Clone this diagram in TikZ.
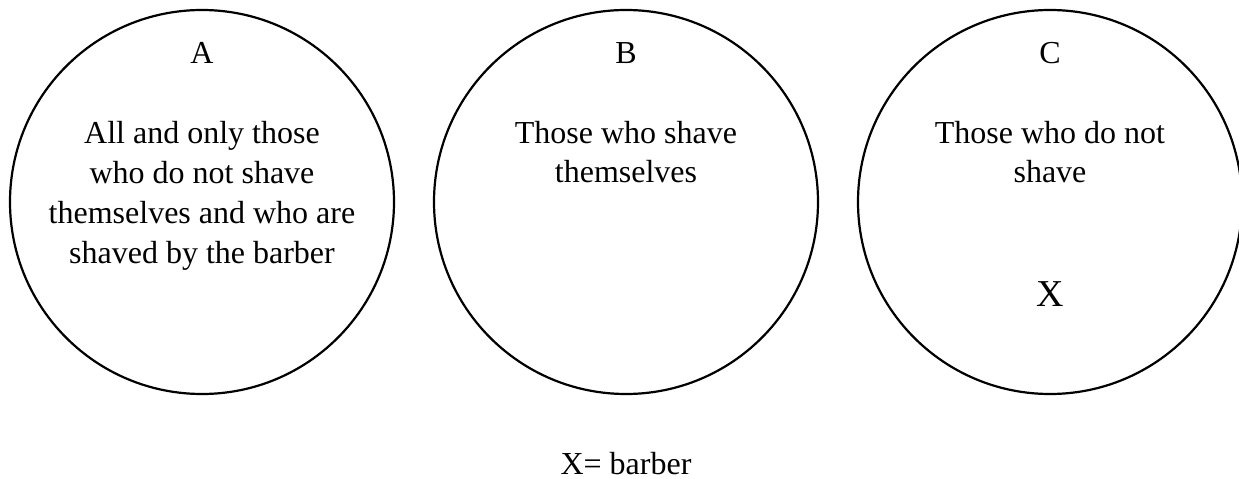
\documentclass[tikz,border=0pt]{standalone}
\usepackage{fontspec}
\setmainfont{Liberation Serif}
\usetikzlibrary{positioning}

\begin{document}
\begin{tikzpicture}[
    x=1pt, y=1pt,
    node distance=40pt,
    setcircle/.style={draw, circle, minimum size=384pt, inner sep=0pt, outer sep=0pt, line width=2.2pt},
    setname/.style={anchor=base, inner sep=0pt, font=\fontsize{32}{40}\selectfont},
    settext/.style={anchor=base, align=center, inner sep=0pt, font=\fontsize{32}{39.7}\selectfont},
    member/.style={anchor=base, inner sep=0pt, font=\fontsize{38}{44}\selectfont},
]
\useasboundingbox (-202,202) rectangle (1037,-277);

% the three sets
\node[setcircle] (setA) at (0,0) {};
\node[setcircle, right=of setA] (setB) {};
\node[setcircle, right=of setB] (setC) {};

\node[setname] (nameA) at ([yshift=-54pt]setA.north) {A};
\node[setname] (nameB) at ([yshift=-54pt]setB.north) {B};
\node[setname] (nameC) at ([yshift=-54pt]setC.north) {C};

% base anchor sits on the last line
\node[settext] (textA) at ([yshift=-253pt]setA.north)
    {All and only those\\who do not shave\\themselves and who are\\shaved by the barber};
\node[settext] (textB) at ([yshift=-173pt]setB.north) {Those who shave\\themselves};
\node[settext] (textC) at ([yshift=-173pt]setC.north) {Those who do not\\shave};

\node[member] (barber) at ([yshift=-296pt]setC.north) {X};

\node[setname] (key) at ([yshift=-80pt]setB.south) {X= barber};

\end{tikzpicture}
\end{document}
